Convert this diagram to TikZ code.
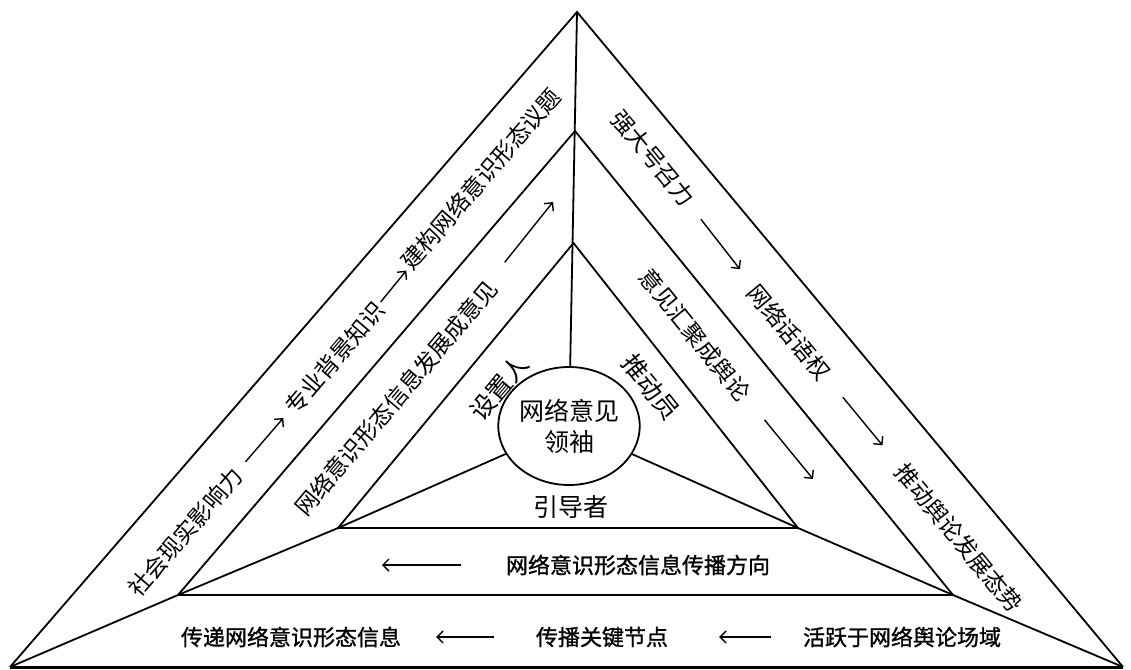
\documentclass[tikz,border=0pt]{standalone}
\usepackage{fontspec}
\setmainfont{Noto Sans CJK SC}
\newfontfamily\cjkb{Noto Sans CJK SC}[FakeBold=1.2]
\usetikzlibrary{arrows.meta,shapes.geometric}
\begin{document}
\begin{tikzpicture}[x=1pt,y=-1pt,
  edge/.style={line width=1.8pt},
  lbl/.style={inner sep=0pt, font=\fontsize{23}{26}\selectfont},
  big/.style={inner sep=0pt, font=\fontsize{25}{28}\selectfont},
  blbl/.style={inner sep=0pt, font=\cjkb\fontsize{22}{26}\selectfont},
  flow/.style={line width=1.4pt, -{Straight Barb[length=6pt,width=12pt,line width=1.4pt]}},
]
\useasboundingbox (0,0) rectangle (1131,669);
% vertices
\coordinate (OA) at (577,12);
\coordinate (OL) at (10,667);
\coordinate (OR) at (1123,667);
\coordinate (MA) at (575,131);
\coordinate (ML) at (178,595);
\coordinate (MR) at (953,595);
\coordinate (IA) at (573.5,243);
\coordinate (IL) at (338,528);
\coordinate (IR) at (798,528);
% triangles
\draw[edge] (OL) -- (OA) -- (OR);
\draw[line width=3pt] (OL) -- (OR);
\draw[edge] (ML) -- (MA) -- (MR) -- cycle;
\draw[edge] (IL) -- (IA) -- (IR) -- cycle;
\draw[edge] (OL) -- (ML) -- (IL);
\draw[edge] (OR) -- (MR) -- (IR);
% centre
\node[ellipse, draw, line width=1.8pt, fill=white, minimum width=128pt, minimum height=118pt,
      inner sep=0pt, align=center, font=\fontsize{25}{31}\selectfont] (ctr) at (569,426) {网络意见\\领袖};
\draw[edge] (OA) -- (ctr);
\draw[edge] (ctr) -- (IL);
\draw[edge] (ctr) -- (IR);
\node[big] (guide) at (571,507) {引导者};
\node[big, rotate=50.4] (setter) at (499,388) {设置人};
\node[big, rotate=-51.5] (pusher) at (651,387) {推动员};
% left outer band
\node[lbl, rotate=49.3] (s1) at (185,532) {社会现实影响力};
\node[lbl, rotate=49.3] (s2) at (335,358) {专业背景知识};
\node[lbl, rotate=49.3] (s3) at (481,179) {建构网络意识形态议题};
\draw[flow, shorten <=12pt, shorten >=10pt] (s1) -- (s2);
\draw[flow, shorten <=3pt, shorten >=3pt] (s2) -- (s3);
% left middle band
\node[lbl, rotate=49.8] (m1) at (396,398) {网络意识形态信息发展成意见};
\coordinate (m1e) at (553,202);
\draw[flow, shorten <=24pt] (m1) -- (m1e);
% right outer band
\node[lbl, rotate=-50.4] (r1) at (653,158) {强大号召力};
\node[lbl, rotate=-50.4] (r2) at (789,332) {网络话语权};
\node[lbl, rotate=-50.4] (r3) at (959,538) {推动舆论发展态势};
\draw[flow, shorten <=20pt, shorten >=22pt] (r1) -- (r2);
\draw[flow, shorten <=27pt, shorten >=28pt] (r2) -- (r3);
% right middle band
\node[lbl, rotate=-51] (r4) at (695,335) {意见汇聚成舆论};
\coordinate (r4e) at (813,479);
\draw[flow, shorten <=29pt] (r4) -- (r4e);
% bottom middle band
\node[blbl] (dir) at (638,565) {网络意识形态信息传播方向};
\coordinate (dire) at (382,565);
\draw[flow, shorten <=45pt] (dir) -- (dire);
% bottom band
\node[blbl] (b1) at (291,637) {传递网络意识形态信息};
\node[blbl] (b2) at (602,637) {传播关键节点};
\node[blbl] (b3) at (902,637) {活跃于网络舆论场域};
\draw[flow, shorten <=32pt, shorten >=51pt] (b3) -- (b2);
\draw[flow, shorten <=42pt, shorten >=35pt] (b2) -- (b1);
\end{tikzpicture}
\end{document}
